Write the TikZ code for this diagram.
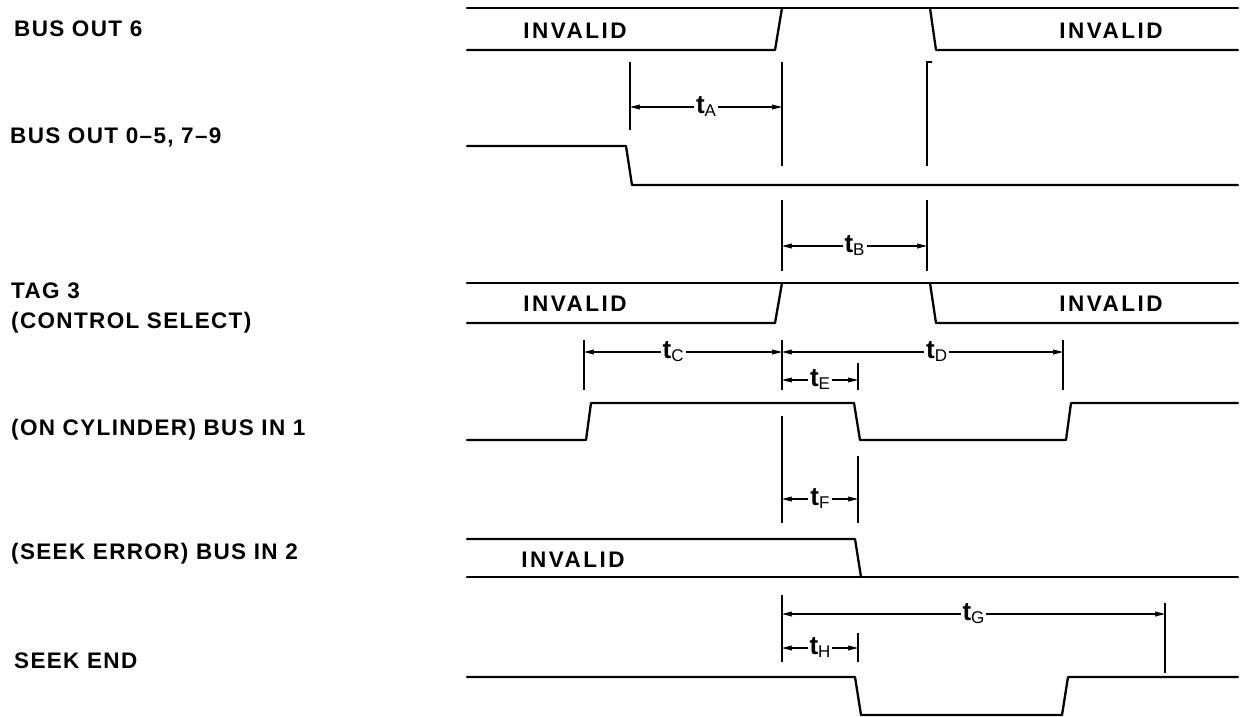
\documentclass[tikz,border=0pt]{standalone}
\usepackage{fontspec}
\setmainfont{Liberation Sans}
\newfontfamily\lblfont[LetterSpace=6]{Liberation Sans}
\newfontfamily\invfont[LetterSpace=11]{Liberation Sans}
\usetikzlibrary{arrows.meta}
\newcommand{\tlab}[1]{{\fontsize{26}{28}\selectfont\bfseries t}\raisebox{-0.3em}{\fontsize{17}{18}\selectfont #1}}
\tikzset{
  wave/.style={line width=2.3pt, line join=round, line cap=round},
  ext/.style={line width=1.2pt},
  dim/.style={line width=1.1pt, {Stealth[length=10pt,width=5pt,inset=1pt]}-{Stealth[length=10pt,width=5pt,inset=1pt]}},
  lbl/.style={anchor=west, inner sep=0pt, font={\lblfont\bfseries\fontsize{22.5}{26}\selectfont}, align=left},
  inv/.style={inner sep=0pt, font={\invfont\bfseries\fontsize{22.5}{26}\selectfont}},
  tl/.style={fill=white, inner xsep=2pt, inner ysep=0pt}
}
\begin{document}
\begin{tikzpicture}[x=1pt,y=-1pt]
\useasboundingbox (0,0) rectangle (1242,717);

% signal names
\node[lbl] (n1) at (14,29) {BUS OUT 6};
\node[lbl] (n2) at (10,137) {BUS OUT 0–5, 7–9};
\node[lbl] (n3a) at (11,291) {TAG 3};
\node[lbl] (n3b) at (11,323) {(CONTROL SELECT)};
\node[lbl] (n4) at (11,430) {(ON CYLINDER) BUS IN 1};
\node[lbl] (n5) at (11,554) {(SEEK ERROR) BUS IN 2};
\node[lbl] (n6) at (14,661) {SEEK END};

% BUS OUT 6
\draw[wave] (467,8) -- (1238,8);
\draw[wave] (467,50) -- (775,50) -- (782,8);
\draw[wave] (930,8) -- (936,50) -- (1238,50);
\node[inv] (i1) at (575,31) {INVALID};
\node[inv] (i2) at (1111,31) {INVALID};

% BUS OUT 0-5, 7-9
\draw[wave] (467,146) -- (626,146) -- (632,185) -- (1238,185);

% TAG 3
\draw[wave] (467,283) -- (1238,283);
\draw[wave] (467,323) -- (775,323) -- (782,283);
\draw[wave] (930,283) -- (936,323) -- (1238,323);
\node[inv] (i3) at (575,304) {INVALID};
\node[inv] (i4) at (1111,304) {INVALID};

% ON CYLINDER
\draw[wave] (467,440) -- (586,440) -- (591,403) -- (854,403) -- (860,440) -- (1066,440) -- (1071,403) -- (1238,403);

% SEEK ERROR
\draw[wave] (467,539) -- (855,539) -- (861,577);
\draw[wave] (467,577) -- (1238,577);
\node[inv] (i5) at (573,560) {INVALID};

% SEEK END
\draw[wave] (467,677) -- (855,677) -- (861,715) -- (1062,715) -- (1068,677) -- (1238,677);

% extension lines
\coordinate (a1) at (630,62);  \coordinate (a2) at (630,130);
\coordinate (b1) at (782,62);  \coordinate (b2) at (782,166);
\coordinate (c1) at (927,62);  \coordinate (c2) at (927,166);
\coordinate (c0) at (932,62);
\draw[ext] (a1) -- (a2);
\draw[ext] (b1) -- (b2);
\draw[ext] (c0) -- (c1) -- (c2);
\coordinate (d1) at (782,200); \coordinate (d2) at (782,271);
\coordinate (e1) at (927,200); \coordinate (e2) at (927,271);
\draw[ext] (d1) -- (d2);
\draw[ext] (e1) -- (e2);
\coordinate (f1) at (584,340); \coordinate (f2) at (584,390);
\coordinate (g1) at (782,340); \coordinate (g2) at (782,390);
\coordinate (h1) at (1063,340); \coordinate (h2) at (1063,390);
\coordinate (k1) at (858,363); \coordinate (k2) at (858,390);
\draw[ext] (f1) -- (f2);
\draw[ext] (g1) -- (g2);
\draw[ext] (h1) -- (h2);
\draw[ext] (k1) -- (k2);
\coordinate (m1) at (782,416); \coordinate (m2) at (782,523);
\coordinate (p1) at (858,456); \coordinate (p2) at (858,523);
\draw[ext] (m1) -- (m2);
\draw[ext] (p1) -- (p2);
\coordinate (q1) at (782,595); \coordinate (q2) at (782,662);
\coordinate (r1) at (1165,603); \coordinate (r2) at (1165,673);
\coordinate (s1) at (858,633); \coordinate (s2) at (858,662);
\draw[ext] (q1) -- (q2);
\draw[ext] (r1) -- (r2);
\draw[ext] (s1) -- (s2);

% dimension arrows
\coordinate (tA1) at (630,107); \coordinate (tA2) at (782,107);
\draw[dim] (tA1) -- node[tl] (tA) {\tlab{A}} (tA2);
\coordinate (tB1) at (782,246); \coordinate (tB2) at (927,246);
\draw[dim] (tB1) -- node[tl] (tB) {\tlab{B}} (tB2);
\coordinate (tC1) at (584,352); \coordinate (tC2) at (782,352);
\draw[dim] (tC1) -- node[tl,pos=0.45] (tC) {\tlab{C}} (tC2);
\coordinate (tD2) at (1063,352);
\draw[dim] (tC2) -- node[tl,pos=0.55] (tD) {\tlab{D}} (tD2);
\coordinate (tE1) at (782,380); \coordinate (tE2) at (858,380);
\draw[dim] (tE1) -- node[tl] (tE) {\tlab{E}} (tE2);
\coordinate (tF1) at (782,499); \coordinate (tF2) at (858,499);
\draw[dim] (tF1) -- node[tl] (tF) {\tlab{F}} (tF2);
\coordinate (tG1) at (782,614); \coordinate (tG2) at (1165,614);
\draw[dim] (tG1) -- node[tl] (tG) {\tlab{G}} (tG2);
\coordinate (tH1) at (782,648); \coordinate (tH2) at (858,648);
\draw[dim] (tH1) -- node[tl] (tH) {\tlab{H}} (tH2);
\end{tikzpicture}
\end{document}
